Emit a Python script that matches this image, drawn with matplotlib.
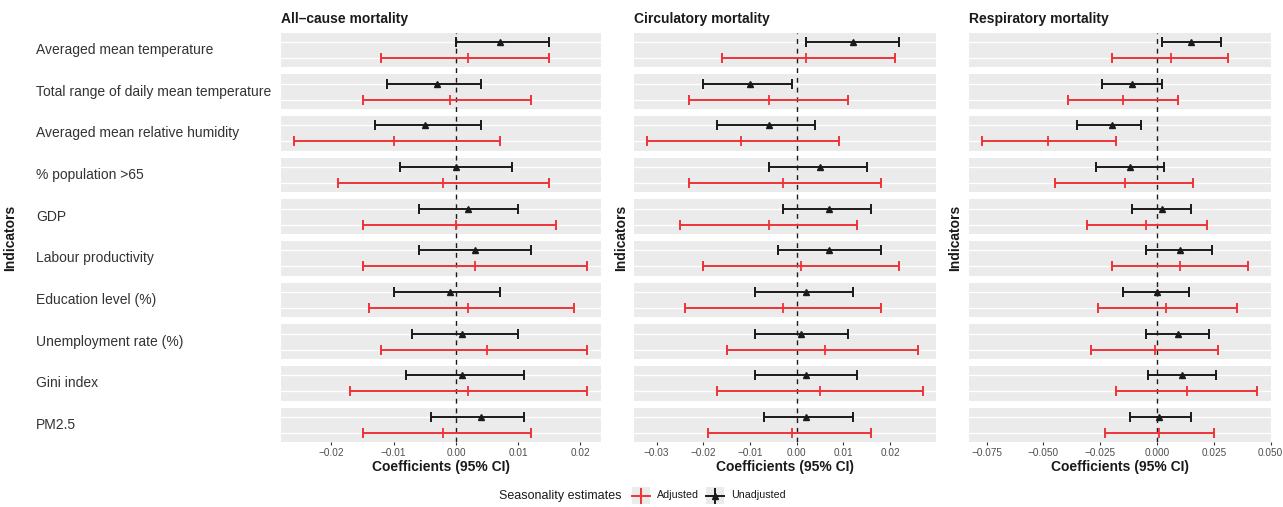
import matplotlib
matplotlib.use("Agg")
import matplotlib.pyplot as plt
import matplotlib.transforms as mtransforms
from matplotlib.lines import Line2D
from matplotlib.patches import Rectangle

plt.rcParams['font.family'] = ['Liberation Sans', 'DejaVu Sans']

# ---------------- data ----------------
indicators = [
    "Averaged mean temperature",
    "Total range of daily mean temperature",
    "Averaged mean relative humidity",
    "% population >65",
    "GDP",
    "Labour productivity",
    "Education level (%)",
    "Unemployment rate (%)",
    "Gini index",
    "PM2.5",
]
panel_titles = ["All\u2013cause mortality", "Circulatory mortality", "Respiratory mortality"]
legend_title = "Seasonality estimates"
series_labels = ["Adjusted", "Unadjusted"]
x_label = "Coefficients (95% CI)"
y_label = "Indicators"

allcause_unadj_est = [0.007, -0.003, -0.005, 0.000, 0.002, 0.003, -0.001, 0.001, 0.001, 0.004]
allcause_unadj_lo = [0.000, -0.011, -0.013, -0.009, -0.006, -0.006, -0.010, -0.007, -0.008, -0.004]
allcause_unadj_hi = [0.015, 0.004, 0.004, 0.009, 0.010, 0.012, 0.007, 0.010, 0.011, 0.011]
allcause_adj_est = [0.002, -0.001, -0.010, -0.002, 0.000, 0.003, 0.002, 0.005, 0.002, -0.002]
allcause_adj_lo = [-0.012, -0.015, -0.026, -0.019, -0.015, -0.015, -0.014, -0.012, -0.017, -0.015]
allcause_adj_hi = [0.015, 0.012, 0.007, 0.015, 0.016, 0.021, 0.019, 0.021, 0.021, 0.012]

circ_unadj_est = [0.012, -0.010, -0.006, 0.005, 0.007, 0.007, 0.002, 0.001, 0.002, 0.002]
circ_unadj_lo = [0.002, -0.020, -0.017, -0.006, -0.003, -0.004, -0.009, -0.009, -0.009, -0.007]
circ_unadj_hi = [0.022, -0.001, 0.004, 0.015, 0.016, 0.018, 0.012, 0.011, 0.013, 0.012]
circ_adj_est = [0.002, -0.006, -0.012, -0.003, -0.006, 0.001, -0.003, 0.006, 0.005, -0.001]
circ_adj_lo = [-0.016, -0.023, -0.032, -0.023, -0.025, -0.020, -0.024, -0.015, -0.017, -0.019]
circ_adj_hi = [0.021, 0.011, 0.009, 0.018, 0.013, 0.022, 0.018, 0.026, 0.027, 0.016]

resp_unadj_est = [0.015, -0.011, -0.020, -0.012, 0.002, 0.010, 0.000, 0.009, 0.011, 0.001]
resp_unadj_lo = [0.002, -0.024, -0.035, -0.027, -0.011, -0.005, -0.015, -0.005, -0.004, -0.012]
resp_unadj_hi = [0.028, 0.002, -0.007, 0.003, 0.015, 0.024, 0.014, 0.023, 0.026, 0.015]
resp_adj_est = [0.006, -0.015, -0.048, -0.014, -0.005, 0.010, 0.004, -0.001, 0.013, 0.001]
resp_adj_lo = [-0.020, -0.039, -0.077, -0.045, -0.031, -0.020, -0.026, -0.029, -0.018, -0.023]
resp_adj_hi = [0.031, 0.009, -0.018, 0.016, 0.022, 0.040, 0.035, 0.027, 0.044, 0.025]

allcause_ticks = [-0.02, -0.01, 0.00, 0.01, 0.02]
circ_ticks = [-0.03, -0.02, -0.01, 0.00, 0.01, 0.02]
resp_ticks = [-0.075, -0.050, -0.025, 0.000, 0.025, 0.050]

# ---------------- style ----------------
W, H = 1283, 507
RED = '#EE3338'
BLACK = '#1A1A1A'
PANEL_BG = '#EBEBEB'

panels = [
    dict(title=panel_titles[0], ua=(allcause_unadj_est, allcause_unadj_lo, allcause_unadj_hi),
         ad=(allcause_adj_est, allcause_adj_lo, allcause_adj_hi), ticks=allcause_ticks, fmt='%.2f',
         xlim=(-0.0281, 0.0233), left=281.0, right=601.0, ylab_x=10.0),
    dict(title=panel_titles[1], ua=(circ_unadj_est, circ_unadj_lo, circ_unadj_hi),
         ad=(circ_adj_est, circ_adj_lo, circ_adj_hi), ticks=circ_ticks, fmt='%.2f',
         xlim=(-0.0348, 0.0298), left=634.3, right=935.7, ylab_x=621.0),
    dict(title=panel_titles[2], ua=(resp_unadj_est, resp_unadj_lo, resp_unadj_hi),
         ad=(resp_adj_est, resp_adj_lo, resp_adj_hi), ticks=resp_ticks, fmt='%.3f',
         xlim=(-0.0826, 0.0500), left=969.3, right=1270.7, ylab_x=955.0),
]

top_px, bot_px = 32.7, 442.3
n = len(indicators)
P = 2.645  # band pitch in row units

fig = plt.figure(figsize=(W / 100, H / 100), dpi=100)

def band_base(k):
    return (n - 1 - k) * P

for pi, p in enumerate(panels):
    ax = fig.add_axes([p['left'] / W, 1 - bot_px / H, (p['right'] - p['left']) / W, (bot_px - top_px) / H])
    ax.set_facecolor(PANEL_BG)
    for s in ax.spines.values():
        s.set_visible(False)
    ax.set_xlim(*p['xlim'])
    ax.set_ylim(0.4, (n - 1) * P + 2.6)
    # white gaps between indicator bands
    for j in range(n - 1):
        ax.axhspan(j * P + 2.6, (j + 1) * P + 0.4, color='white', lw=0, zorder=0.5)
    red_y = [band_base(k) + 1 for k in range(n)]
    blk_y = [band_base(k) + 2 for k in range(n)]
    for y in red_y + blk_y:
        ax.axhline(y, color='white', lw=1.0, zorder=0.6)
    ax.axvline(0, color=BLACK, lw=1.0, ls=(0, (3.5, 3.5)), zorder=1.5)

    est, lo, hi = p['ad']
    ax.errorbar(est, red_y, xerr=[[e - l for e, l in zip(est, lo)], [h - e for e, h in zip(est, hi)]],
                fmt='none', ecolor=RED, elinewidth=1.4, capsize=3.3, capthick=1.4, zorder=2)
    ax.plot(est, red_y, ls='none', marker='|', ms=7, mew=1.3, color=RED, zorder=2.5)
    est, lo, hi = p['ua']
    ax.errorbar(est, blk_y, xerr=[[e - l for e, l in zip(est, lo)], [h - e for e, h in zip(est, hi)]],
                fmt='none', ecolor=BLACK, elinewidth=1.4, capsize=3.3, capthick=1.4, zorder=2)
    ax.plot(est, blk_y, ls='none', marker='^', ms=4.5, color=BLACK, zorder=2.5)

    ax.set_yticks([])
    ax.set_xticks(p['ticks'])
    ax.set_xticklabels([(p['fmt'] % t).replace('-', '\u2212') for t in p['ticks']])
    ax.tick_params(axis='x', length=2.3, width=0.8, color='#333333', pad=1.8,
                   labelsize=7.2, labelcolor='#4D4D4D')

    cx = (p['left'] + p['right']) / 2
    fig.text(p['left'] / W, 1 - 23.5 / H, p['title'], fontsize=10, fontweight='bold',
             color=BLACK, ha='left', va='baseline')
    fig.text(cx / W, 1 - 467.5 / H, x_label, fontsize=10, fontweight='bold',
             color=BLACK, ha='center', va='center')
    fig.text(p['ylab_x'] / W, 1 - 237.5 / H, y_label, fontsize=10, fontweight='bold',
             color=BLACK, ha='center', va='center', rotation=90)

    if pi == 0:
        trans = mtransforms.blended_transform_factory(fig.transFigure, ax.transData)
        for k, lab in enumerate(indicators):
            ax.text(36 / W, band_base(k) + 1.5, lab, transform=trans, fontsize=10,
                    color='#333333', ha='left', va='center', clip_on=False)

# ---------------- legend ----------------
lax = fig.add_axes([0, 0, 1, 1], zorder=-1)
lax.set_xlim(0, W)
lax.set_ylim(H, 0)
lax.axis('off')
lax.patch.set_alpha(0)
ly = 495.5
fig.text(499 / W, 1 - ly / H, legend_title, fontsize=9, color=BLACK, ha='left', va='center')
for cx0, col, mk, lab, tx in [(641, RED, None, series_labels[0], 657), (715, BLACK, '^', series_labels[1], 731)]:
    lax.add_patch(Rectangle((cx0 - 9, ly - 8.5), 18, 17, facecolor=PANEL_BG, edgecolor='none'))
    lax.add_line(Line2D([cx0 - 9, cx0 + 9], [ly, ly], color=col, lw=1.4))
    lax.add_line(Line2D([cx0, cx0], [ly - 7, ly + 7], color=col, lw=1.4))
    if mk:
        lax.plot([cx0], [ly], marker=mk, ms=4.5, color=col)
    fig.text(tx / W, 1 - ly / H, lab, fontsize=7.7, color=BLACK, ha='left', va='center')

fig.savefig('out.png', dpi=100)
